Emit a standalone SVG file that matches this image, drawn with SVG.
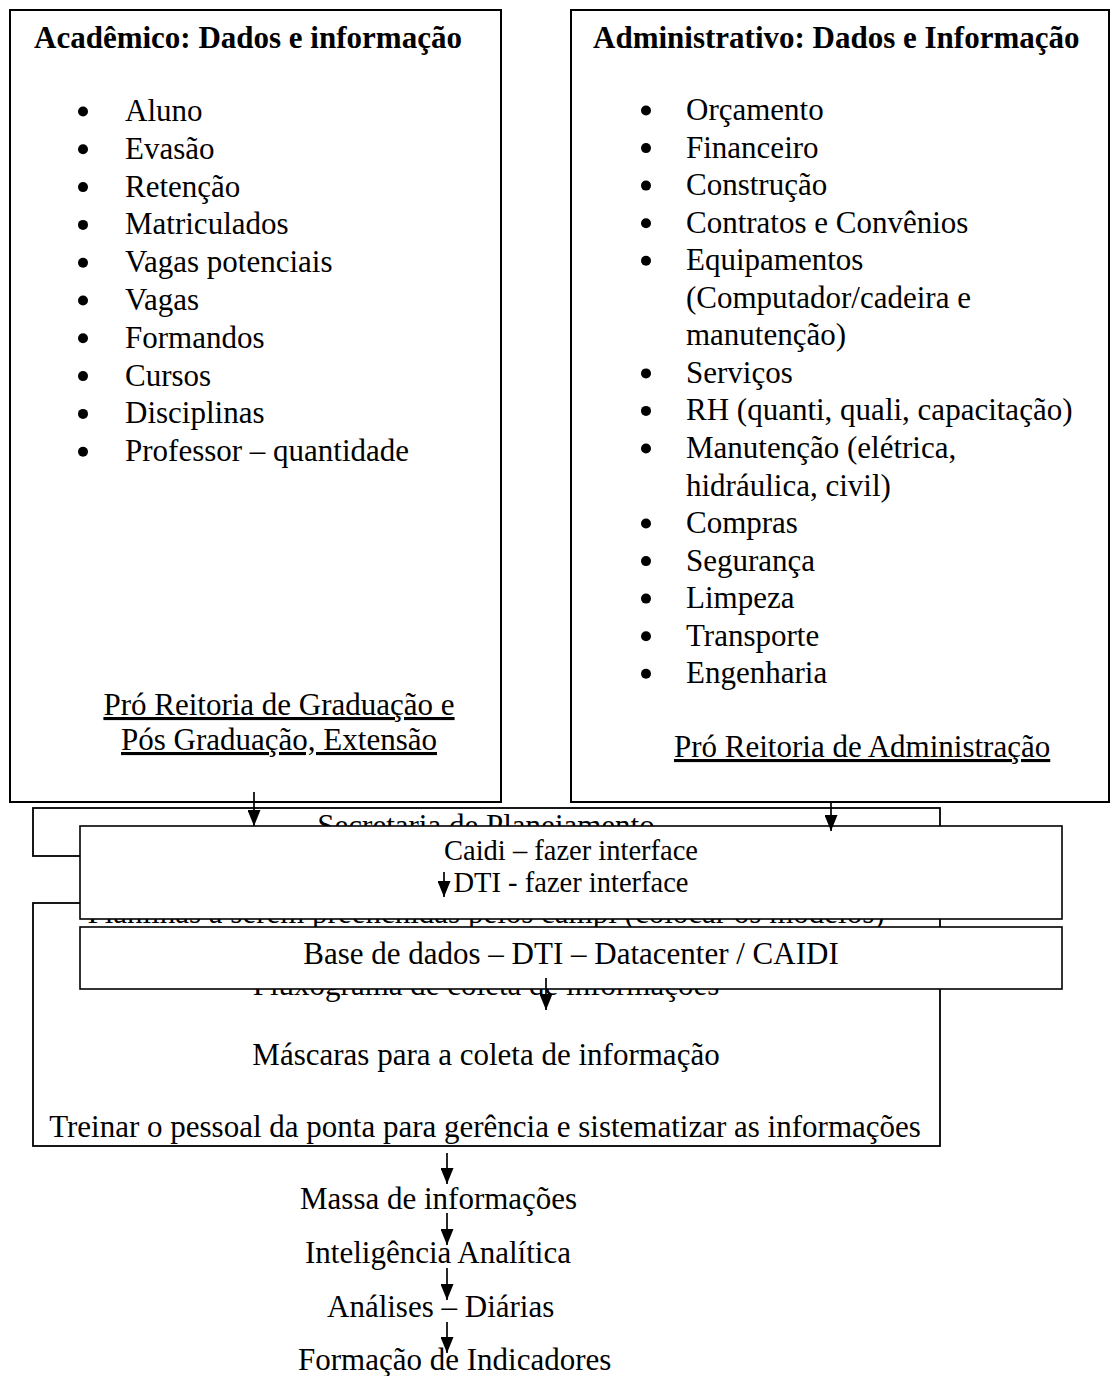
<svg xmlns="http://www.w3.org/2000/svg" width="1112" height="1376" viewBox="0 0 1112 1376">
  <style>
    text { font-family: "Liberation Serif", "Times New Roman", serif; font-size: 31px; fill: #000; }
    .b { font-weight: bold; }
    .c { text-anchor: middle; }
    .u { text-decoration: underline; }
    .s { font-size: 28.5px; }
    .box { fill: #fff; stroke: #000; stroke-width: 2; }
    .box2 { fill: #fff; stroke: #000; stroke-width: 1.8; }
    .box3 { fill: #fff; stroke: #000; stroke-width: 1.6; }
    .dot { fill: #000; }
    .arr { stroke: #000; stroke-width: 1.7; fill: none; marker-end: url(#ah); }
  </style>
  <defs>
    <marker id="ah" viewBox="0 0 16 13" refX="16" refY="6.5" markerWidth="16" markerHeight="13" markerUnits="userSpaceOnUse" orient="auto">
      <path d="M0,0 L16,6.5 L0,13 Z" fill="#000"/>
    </marker>
  </defs>
  <rect width="1112" height="1376" fill="#fff"/>

  <g id="academico">
    <rect class="box" x="10" y="10" width="491" height="792"/>
    <text class="b" x="34" y="48">Acadêmico: Dados e informação</text>
    <g>
      <circle class="dot" cx="83" cy="111.5" r="5"/><text x="125" y="121">Aluno</text>
      <circle class="dot" cx="83" cy="149.3" r="5"/><text x="125" y="158.8">Evasão</text>
      <circle class="dot" cx="83" cy="187.1" r="5"/><text x="125" y="196.6">Retenção</text>
      <circle class="dot" cx="83" cy="224.9" r="5"/><text x="125" y="234.4">Matriculados</text>
      <circle class="dot" cx="83" cy="262.7" r="5"/><text x="125" y="272.2">Vagas potenciais</text>
      <circle class="dot" cx="83" cy="300.5" r="5"/><text x="125" y="310">Vagas</text>
      <circle class="dot" cx="83" cy="338.3" r="5"/><text x="125" y="347.8">Formandos</text>
      <circle class="dot" cx="83" cy="376.1" r="5"/><text x="125" y="385.6">Cursos</text>
      <circle class="dot" cx="83" cy="413.9" r="5"/><text x="125" y="423.4">Disciplinas</text>
      <circle class="dot" cx="83" cy="451.7" r="5"/><text x="125" y="461.2">Professor – quantidade</text>
    </g>
    <text class="c u" x="279" y="715">Pró Reitoria de Graduação e</text>
    <text class="c u" x="279" y="750">Pós Graduação, Extensão</text>
  </g>

  <g id="administrativo">
    <rect class="box" x="571" y="10" width="538" height="792"/>
    <text class="b" x="593" y="48">Administrativo: Dados e Informação</text>
    <g>
      <circle class="dot" cx="646" cy="110.5" r="5"/><text x="686" y="120">Orçamento</text>
      <circle class="dot" cx="646" cy="148.1" r="5"/><text x="686" y="157.6">Financeiro</text>
      <circle class="dot" cx="646" cy="185.6" r="5"/><text x="686" y="195.1">Construção</text>
      <circle class="dot" cx="646" cy="223.2" r="5"/><text x="686" y="232.7">Contratos e Convênios</text>
      <circle class="dot" cx="646" cy="260.7" r="5"/><text x="686" y="270.2">Equipamentos</text>
      <text x="686" y="307.8">(Computador/cadeira e</text>
      <text x="686" y="345.3">manutenção)</text>
      <circle class="dot" cx="646" cy="373.4" r="5"/><text x="686" y="382.9">Serviços</text>
      <circle class="dot" cx="646" cy="410.9" r="5"/><text x="686" y="420.4">RH (quanti, quali, capacitação)</text>
      <circle class="dot" cx="646" cy="448.5" r="5"/><text x="686" y="458">Manutenção (elétrica,</text>
      <text x="686" y="495.5">hidráulica, civil)</text>
      <circle class="dot" cx="646" cy="523.5" r="5"/><text x="686" y="533">Compras</text>
      <circle class="dot" cx="646" cy="561.1" r="5"/><text x="686" y="570.6">Segurança</text>
      <circle class="dot" cx="646" cy="598.6" r="5"/><text x="686" y="608.1">Limpeza</text>
      <circle class="dot" cx="646" cy="636.2" r="5"/><text x="686" y="645.7">Transporte</text>
      <circle class="dot" cx="646" cy="673.7" r="5"/><text x="686" y="683.2">Engenharia</text>
    </g>
    <text class="u" x="674" y="757">Pró Reitoria de Administração</text>
  </g>

  <g id="coleta">
    <rect class="box2" x="33" y="903" width="907" height="243"/>
    <text class="c" x="486" y="923">Planilhas a serem preenchidas pelos campi (colocar os modelos)</text>
    <text class="c" x="486" y="995">Fluxograma de coleta de informações</text>
    <text class="c" x="486" y="1065">Máscaras para a coleta de informação</text>
    <text class="c" x="485" y="1137">Treinar o pessoal da ponta para gerência e sistematizar as informações</text>
  </g>

  <g id="secretaria">
    <rect class="box2" x="33" y="808" width="907" height="48"/>
    <text class="c" x="486" y="836">Secretaria de Planejamento</text>
  </g>

  <g id="caidi">
    <rect class="box3" x="80" y="826" width="982" height="93"/>
    <text class="c s" x="571" y="860">Caidi – fazer interface</text>
    <text class="c s" x="571" y="892">DTI - fazer interface</text>
  </g>

  <g id="base">
    <rect class="box3" x="80" y="927" width="982" height="62"/>
    <text class="c" x="571" y="964">Base de dados – DTI – Datacenter / CAIDI</text>
  </g>

  <g id="massa"><text x="300" y="1209">Massa de informações</text></g>
  <g id="inteligencia"><text x="305" y="1263">Inteligência Analítica</text></g>
  <g id="analises"><text x="327" y="1317">Análises – Diárias</text></g>
  <g id="indicadores"><text x="298" y="1370">Formação de Indicadores</text></g>

  <g id="connectors">
    <line class="arr" x1="254" y1="792" x2="254" y2="826"/>
    <line class="arr" x1="831" y1="802" x2="831" y2="831"/>
    <line class="arr" x1="444" y1="872" x2="444" y2="897"/>
    <line class="arr" x1="546" y1="978" x2="546" y2="1010"/>
    <line class="arr" x1="447" y1="1153" x2="447" y2="1184"/>
    <line class="arr" x1="447" y1="1213" x2="447" y2="1245"/>
    <line class="arr" x1="447" y1="1268" x2="447" y2="1300"/>
    <line class="arr" x1="447" y1="1322" x2="447" y2="1353"/>
  </g>
</svg>
